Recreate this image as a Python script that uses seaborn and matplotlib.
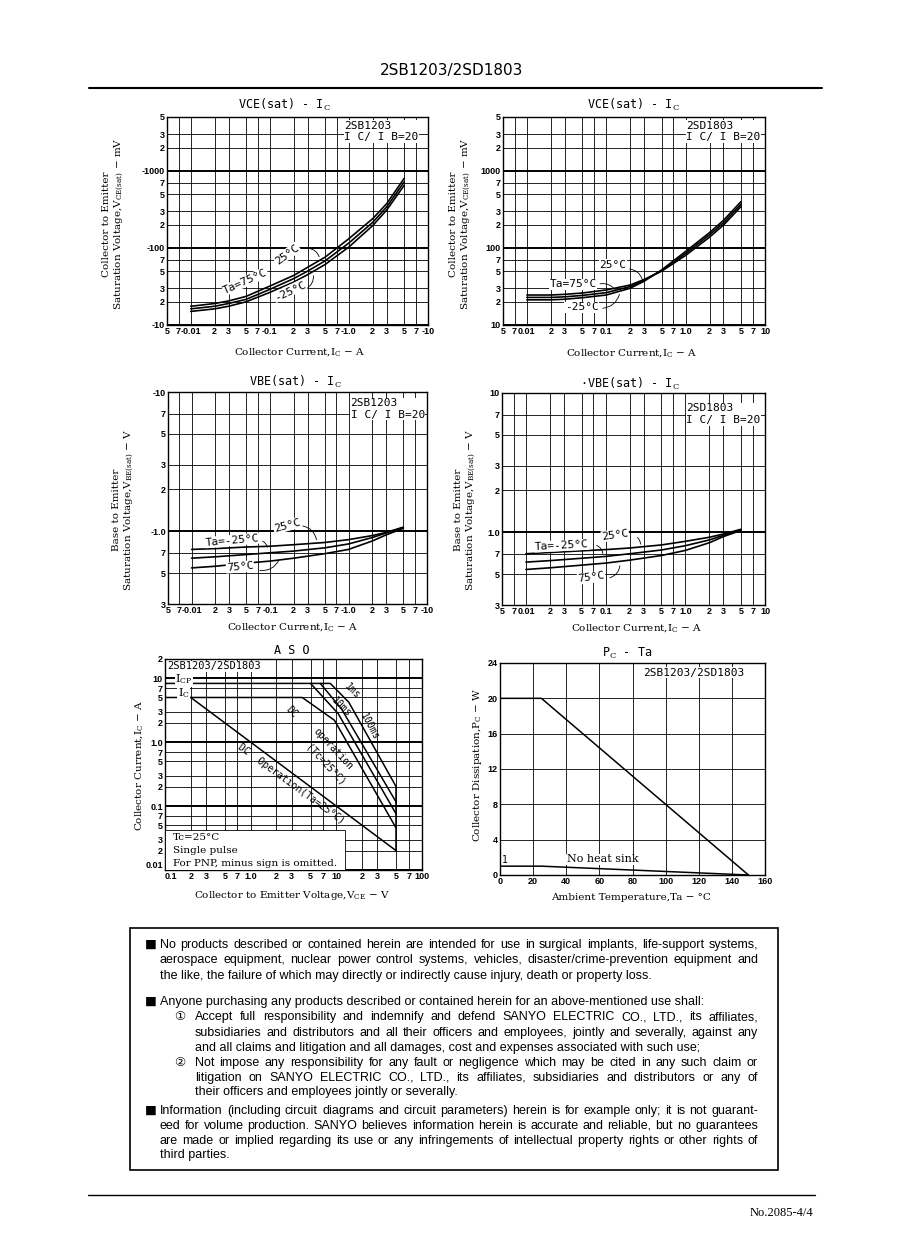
import numpy as np
import pandas as pd
import matplotlib
matplotlib.use("Agg")
import matplotlib.pyplot as plt
import seaborn as sns
from matplotlib import font_manager
from matplotlib.ticker import FixedLocator, FixedFormatter, NullLocator
from matplotlib.patches import Rectangle
from matplotlib.lines import Line2D

# ---------- VCE(sat) - IC ----------
vce_ic = [0.01, 0.02, 0.03, 0.05, 0.1, 0.2, 0.3, 0.5, 1.0, 2.0, 3.0, 5.0]
vce_b_75 = [17.5, 19, 20.5, 23.5, 32, 44, 56, 76, 132, 240, 375, 800]
vce_b_25 = [16.2, 17.5, 19, 21.5, 29, 40, 50, 68, 116, 215, 340, 720]
vce_b_m25 = [15, 16.2, 17.5, 20, 26.5, 36, 45, 61, 103, 195, 310, 650]
vce_d_75 = [24.5, 24.5, 25, 26, 28.5, 33, 39, 50, 80, 138, 198, 345]
vce_d_25 = [22.8, 22.8, 23.2, 24.2, 26.3, 31.5, 38, 51, 85, 148, 212, 370]
vce_d_m25 = [21.2, 21.2, 21.6, 22.6, 24.5, 30, 37, 52, 90, 158, 228, 400]

# ---------- VBE(sat) - IC ----------
vbe_ic = [0.01, 0.02, 0.05, 0.1, 0.2, 0.5, 1.0, 2.0, 3.0, 5.0]
vbe_b_m25 = [0.74, 0.75, 0.77, 0.78, 0.80, 0.83, 0.87, 0.93, 0.98, 1.07]
vbe_b_25 = [0.64, 0.655, 0.68, 0.70, 0.72, 0.76, 0.81, 0.90, 0.97, 1.06]
vbe_b_75 = [0.545, 0.56, 0.59, 0.61, 0.64, 0.69, 0.74, 0.85, 0.94, 1.05]
vbe_d_m25 = [0.70, 0.715, 0.735, 0.75, 0.77, 0.81, 0.86, 0.92, 0.97, 1.05]
vbe_d_25 = [0.61, 0.625, 0.65, 0.67, 0.70, 0.745, 0.80, 0.88, 0.95, 1.04]
vbe_d_75 = [0.54, 0.555, 0.58, 0.60, 0.63, 0.68, 0.74, 0.84, 0.93, 1.03]

# ---------- ASO ----------
aso_1ms_v = [0.1, 8.5, 14, 50]
aso_1ms_a = [8.3, 8.3, 4.2, 0.2]
aso_10ms_v = [6.5, 11.5, 50]
aso_10ms_a = [8.3, 3.3, 0.115]
aso_100ms_v = [5, 10.5, 50]
aso_100ms_a = [8.3, 2.8, 0.075]
aso_dctc_v = [0.1, 4, 9.5, 50]
aso_dctc_a = [5, 5, 2.2, 0.045]
aso_dcta_v = [0.2, 50]
aso_dcta_a = [5, 0.02]
aso_vceo_v = [50, 50]
aso_vceo_a = [0.02, 0.2]

# ---------- Pc - Ta ----------
pc_ta_hs = [0, 25, 150]
pc_w_hs = [20, 20, 0]
pc_ta_nohs = [0, 25, 150]
pc_w_nohs = [1, 1, 0]

# ---------- тики ----------
x_ic = [0.005, 0.007, 0.01, 0.02, 0.03, 0.05, 0.07, 0.1, 0.2, 0.3, 0.5, 0.7, 1, 2, 3, 5, 7, 10]
x_ic_lab_b = ['5', '7', '-0.01', '2', '3', '5', '7', '-0.1', '2', '3', '5', '7', '-1.0', '2', '3', '5', '7', '-10']
x_ic_lab_d = ['5', '7', '0.01', '2', '3', '5', '7', '0.1', '2', '3', '5', '7', '1.0', '2', '3', '5', '7', '10']
y_vce = [5000, 3000, 2000, 1000, 700, 500, 300, 200, 100, 70, 50, 30, 20, 10]
y_vce_lab_b = ['5', '3', '2', '-1000', '7', '5', '3', '2', '-100', '7', '5', '3', '2', '-10']
y_vce_lab_d = ['5', '3', '2', '1000', '7', '5', '3', '2', '100', '7', '5', '3', '2', '10']
y_vbe = [10, 7, 5, 3, 2, 1, 0.7, 0.5, 0.3]
y_vbe_lab_b = ['-10', '7', '5', '3', '2', '-1.0', '7', '5', '3']
y_vbe_lab_d = ['10', '7', '5', '3', '2', '1.0', '7', '5', '3']
x_aso = [0.1, 0.2, 0.3, 0.5, 0.7, 1, 2, 3, 5, 7, 10, 20, 30, 50, 70, 100]
x_aso_lab = ['0.1', '2', '3', '5', '7', '1.0', '2', '3', '5', '7', '10', '2', '3', '5', '7', '100']
y_aso = [20, 10, 7, 5, 3, 2, 1, 0.7, 0.5, 0.3, 0.2, 0.1, 0.07, 0.05, 0.03, 0.02, 0.01]
y_aso_lab = ['2', '10', '7', '5', '3', '2', '1.0', '7', '5', '3', '2', '0.1', '7', '5', '3', '2', '0.01']
x_ta = [0, 20, 40, 60, 80, 100, 120, 140, 160]
y_pc = [0, 4, 8, 12, 16, 20, 24]


def has_font(name):
    try:
        font_manager.findfont(name, fallback_to_default=False)
        return True
    except Exception:
        return False


sns.set_theme(style="white")
plt.rcParams['font.family'] = ['DejaVu Sans']
plt.rcParams['mathtext.fontset'] = 'dejavuserif'
plt.rcParams['axes.linewidth'] = 1.0
plt.rcParams['axes.edgecolor'] = 'black'
plt.rcParams['text.color'] = 'black'
plt.rcParams['xtick.color'] = 'black'
plt.rcParams['ytick.color'] = 'black'

MONO = ['DejaVu Sans Mono']
SERIF = ['DejaVu Serif']
TICKF = ['Liberation Sans', 'DejaVu Sans']
BODY = (['Liberation Sans Narrow'] if has_font('Liberation Sans Narrow') else []) + \
       ['Liberation Sans', 'DejaVu Sans', 'Noto Sans CJK JP']

W, H = 898, 1260
fig = plt.figure(figsize=(W / 100, H / 100), dpi=100)
fig.patch.set_facecolor('white')


def px(x, y):
    return x / W, 1 - y / H


def add_ax(l, t, r, b):
    return fig.add_axes([l / W, 1 - b / H, (r - l) / W, (b - t) / H])


def is_decade(v):
    lv = np.log10(v)
    return abs(lv - round(lv)) < 1e-6


def frame(ax, xt, xl, yt, yl, xlim, ylim, log=True):
    if log:
        ax.set_xscale('log')
        ax.set_yscale('log')
    ax.set_xlim(xlim)
    ax.set_ylim(ylim)
    ax.xaxis.set_major_locator(FixedLocator(xt))
    ax.xaxis.set_major_formatter(FixedFormatter(xl))
    ax.yaxis.set_major_locator(FixedLocator(yt))
    ax.yaxis.set_major_formatter(FixedFormatter(yl))
    ax.xaxis.set_minor_locator(NullLocator())
    ax.yaxis.set_minor_locator(NullLocator())
    ax.tick_params(length=0, pad=1.5, labelsize=6.5, colors='black')
    for lab in ax.get_xticklabels() + ax.get_yticklabels():
        lab.set_family(TICKF)
        lab.set_fontweight('bold')
    for v in xt:
        ax.axvline(v, color='black', lw=0.6, zorder=1)
    for v in yt:
        heavy = log and is_decade(v)
        ax.axhline(v, color='black', lw=1.4 if heavy else 0.6, zorder=1)
    for s in ax.spines.values():
        s.set_color('black')
        s.set_linewidth(1.0)
        s.set_zorder(3)
    ax.set_xlabel('')
    ax.set_ylabel('')


def curves(ax, x, ys, labels):
    df = pd.concat([pd.DataFrame({'ic': x, 'v': y, 'ta': lab}) for y, lab in zip(ys, labels)])
    sns.lineplot(data=df, x='ic', y='v', hue='ta', palette=['black'] * len(ys),
                 legend=False, ax=ax, lw=1.2, zorder=4)
    ax.set_xlabel('')
    ax.set_ylabel('')


def leader(ax, p0, p1, rad=-0.4):
    ax.annotate('', xy=p1, xytext=p0, xycoords='axes fraction', textcoords='axes fraction',
                arrowprops=dict(arrowstyle='-', lw=0.6, color='black',
                                connectionstyle='arc3,rad=%s' % rad), zorder=5)


def atext(ax, x, y, s, rot=0, fs=8, ha='center', family=None, bg=False):
    kw = dict(transform=ax.transAxes, fontsize=fs, rotation=rot, ha=ha, va='center',
              family=family or MONO, rotation_mode='anchor', zorder=6, color='black')
    if bg:
        kw['bbox'] = dict(facecolor='white', edgecolor='none', pad=0.4)
    ax.text(x, y, s, **kw)


temps = ['75', '25', '-25']

# ---- panel 1: VCE(sat) 2SB1203 ----
ax1 = add_ax(167, 117, 428, 325)
frame(ax1, x_ic, x_ic_lab_b, y_vce, y_vce_lab_b, (0.005, 10), (10, 5000))
curves(ax1, vce_ic, [vce_b_75, vce_b_25, vce_b_m25], temps)
atext(ax1, 0.68, 0.93, '2SB1203\nI C/ I B=20', fs=8, ha='left', bg=True)
atext(ax1, 0.30, 0.21, 'Ta=75°C', rot=24, bg=True)
atext(ax1, 0.46, 0.34, '25°C', rot=36, bg=True)
atext(ax1, 0.47, 0.165, '-25°C', rot=25, bg=True)
leader(ax1, (0.53, 0.37), (0.586, 0.315))
leader(ax1, (0.525, 0.17), (0.56, 0.25), rad=0.4)

# ---- panel 2: VCE(sat) 2SD1803 ----
ax2 = add_ax(503, 117, 765, 325)
frame(ax2, x_ic, x_ic_lab_d, y_vce, y_vce_lab_d, (0.005, 10), (10, 5000))
curves(ax2, vce_ic, [vce_d_75, vce_d_25, vce_d_m25], temps)
atext(ax2, 0.70, 0.93, '2SD1803\nI C/ I B=20', fs=8, ha='left', bg=True)
atext(ax2, 0.267, 0.195, 'Ta=75°C', bg=True)
atext(ax2, 0.42, 0.29, '25°C', bg=True)
atext(ax2, 0.30, 0.085, '-25°C', bg=True)
leader(ax2, (0.473, 0.27), (0.534, 0.207))
leader(ax2, (0.36, 0.195), (0.435, 0.155))
leader(ax2, (0.37, 0.08), (0.447, 0.16), rad=0.4)

# ---- panel 3: VBE(sat) 2SB1203 ----
ax3 = add_ax(168, 392, 427, 604)
frame(ax3, x_ic, x_ic_lab_b, y_vbe, y_vbe_lab_b, (0.005, 10), (0.3, 10))
curves(ax3, vbe_ic, [vbe_b_m25, vbe_b_25, vbe_b_75], temps)
atext(ax3, 0.705, 0.92, '2SB1203\nI C/ I B=20', fs=8, ha='left', bg=True)
atext(ax3, 0.25, 0.30, 'Ta=-25°C', rot=5, bg=True)
atext(ax3, 0.46, 0.37, '25°C', rot=15, bg=True)
atext(ax3, 0.278, 0.175, '75°C', rot=5, bg=True)
leader(ax3, (0.51, 0.37), (0.575, 0.29))
leader(ax3, (0.355, 0.30), (0.385, 0.255))
leader(ax3, (0.344, 0.16), (0.432, 0.217), rad=0.4)

# ---- panel 4: VBE(sat) 2SD1803 ----
ax4 = add_ax(502, 393, 765, 605)
frame(ax4, x_ic, x_ic_lab_d, y_vbe, y_vbe_lab_d, (0.005, 10), (0.3, 10))
curves(ax4, vbe_ic, [vbe_d_m25, vbe_d_25, vbe_d_75], temps)
atext(ax4, 0.70, 0.90, '2SD1803\nI C/ I B=20', fs=8, ha='left', bg=True)
atext(ax4, 0.228, 0.28, 'Ta=-25°C', rot=3, bg=True)
atext(ax4, 0.43, 0.33, '25°C', rot=8, bg=True)
atext(ax4, 0.34, 0.13, '75°C', rot=8, bg=True)
leader(ax4, (0.506, 0.325), (0.525, 0.274))
leader(ax4, (0.35, 0.285), (0.384, 0.23))
leader(ax4, (0.40, 0.125), (0.449, 0.198), rad=0.4)

# ---- panel 5: ASO ----
ax5 = add_ax(165, 659, 422, 870)
frame(ax5, x_aso, x_aso_lab, y_aso, y_aso_lab, (0.1, 100), (0.01, 20))
ax5.get_xticklabels()[0].set_horizontalalignment('left')
ax5.get_yticklabels()[-1].set_verticalalignment('bottom')
for vx, vy in [(aso_1ms_v, aso_1ms_a), (aso_10ms_v, aso_10ms_a), (aso_100ms_v, aso_100ms_a),
               (aso_dctc_v, aso_dctc_a), (aso_dcta_v, aso_dcta_a), (aso_vceo_v, aso_vceo_a)]:
    sns.lineplot(x=vx, y=vy, ax=ax5, color='black', lw=1.1, sort=False, estimator=None, zorder=4)
ax5.set_xlabel('')
ax5.set_ylabel('')
atext(ax5, 0.01, 0.966, '2SB1203/2SD1803', fs=7.5, ha='left', bg=True)
atext(ax5, 0.04, 0.905, 'I$_{\\rm CP}$', fs=8, ha='left', family=SERIF, bg=True)
atext(ax5, 0.05, 0.838, 'I$_{\\rm C}$', fs=8, ha='left', family=SERIF, bg=True)
atext(ax5, 0.73, 0.85, '1ms', rot=-45, fs=7)
atext(ax5, 0.685, 0.77, '10ms', rot=-45, fs=7)
atext(ax5, 0.795, 0.68, '100ms', rot=-62, fs=7)
atext(ax5, 0.494, 0.749, 'DC', rot=-45, fs=7)
atext(ax5, 0.655, 0.575, 'operation', rot=-47, fs=7)
atext(ax5, 0.625, 0.495, '(Tc=25°C)', rot=-47, fs=7)
atext(ax5, 0.49, 0.41, 'DC  Operation(Ta=25°C)', rot=-36, fs=7)
ax5.add_patch(Rectangle((0.0, 0.0), 0.70, 0.19, transform=ax5.transAxes, facecolor='white',
                        edgecolor='black', lw=0.6, zorder=5))
atext(ax5, 0.03, 0.155, 'Tc=25°C', fs=7.5, ha='left', family=SERIF)
atext(ax5, 0.03, 0.092, 'Single pulse', fs=7.5, ha='left', family=SERIF)
atext(ax5, 0.03, 0.032, 'For PNP, minus sign is omitted.', fs=7.5, ha='left', family=SERIF)

# ---- panel 6: Pc - Ta ----
ax6 = add_ax(500, 663, 765, 875)
frame(ax6, x_ta, [str(v) for v in x_ta], y_pc, [str(v) for v in y_pc], (0, 160), (0, 24), log=False)
sns.lineplot(x=pc_ta_hs, y=pc_w_hs, ax=ax6, color='black', lw=1.1, sort=False, estimator=None, zorder=4)
sns.lineplot(x=pc_ta_nohs, y=pc_w_nohs, ax=ax6, color='black', lw=1.1, sort=False, estimator=None, zorder=4)
ax6.set_xlabel('')
ax6.set_ylabel('')
ax6.text(3, 1.7, '1', fontsize=7, family=MONO, va='center', ha='center', zorder=6)
ax6.text(62, 1.8, 'No heat sink', fontsize=8, family=SERIF, va='center', ha='center', zorder=6,
         bbox=dict(facecolor='white', edgecolor='none', pad=0.4))
ax6.text(117, 22.9, '2SB1203/2SD1803', fontsize=8, family=MONO, va='center', ha='center', zorder=6,
         bbox=dict(facecolor='white', edgecolor='none', pad=0.5))

# ---- titles and axis labels ----
titles = [((284, 105), 'VCE(sat) - I$_{\\rm C}$'), ((633, 105), 'VCE(sat) - I$_{\\rm C}$'),
          ((295, 382), 'VBE(sat) - I$_{\\rm C}$'), ((630, 384), '·VBE(sat) - I$_{\\rm C}$'),
          ((292, 650), 'A S O'), ((627, 653), 'P$_{\\rm C}$ - Ta')]
for (x, y), s in titles:
    fig.text(*px(x, y), s, fontsize=8.5, family=MONO, ha='center', va='center')

xlabels = [((300, 352), 'Collector Current,I$_{\\rm C}$ − A'),
           ((632, 353), 'Collector Current,I$_{\\rm C}$ − A'),
           ((293, 627), 'Collector Current,I$_{\\rm C}$ − A'),
           ((637, 628), 'Collector Current,I$_{\\rm C}$ − A'),
           ((292, 895), 'Collector to Emitter Voltage,V$_{\\rm CE}$ − V'),
           ((631, 897), 'Ambient Temperature,Ta − °C')]
for (x, y), s in xlabels:
    fig.text(*px(x, y), s, fontsize=7.5, family=SERIF, ha='center', va='center')

ylabels = [((114, 224), 'Collector to Emitter\nSaturation Voltage,V$_{\\rm CE(sat)}$ − mV'),
           ((461, 224), 'Collector to Emitter\nSaturation Voltage,V$_{\\rm CE(sat)}$ − mV'),
           ((124, 510), 'Base to Emitter\nSaturation Voltage,V$_{\\rm BE(sat)}$ − V'),
           ((466, 510), 'Base to Emitter\nSaturation Voltage,V$_{\\rm BE(sat)}$ − V'),
           ((139, 765), 'Collector Current,I$_{\\rm C}$ − A'),
           ((477, 765), 'Collector Dissipation,P$_{\\rm C}$ − W')]
for (x, y), s in ylabels:
    fig.text(*px(x, y), s, fontsize=7.5, family=SERIF, ha='center', va='center',
             rotation=90, linespacing=1.1, multialignment='center')

# ---- header / footer ----
fig.text(*px(452, 70), '2SB1203/2SD1803', fontsize=11, family=['DejaVu Sans'], ha='center', va='center')
fig.add_artist(Line2D([89 / W, 822 / W], [1 - 88 / H] * 2, color='black', lw=1.5))
fig.add_artist(Line2D([88 / W, 815 / W], [1 - 1195 / H] * 2, color='black', lw=1.0))
fig.text(*px(813, 1213), 'No.2085-4/4', fontsize=9, family=['Liberation Serif', 'DejaVu Serif'],
         ha='right', va='center')

# ---- disclaimer box ----
fig.add_artist(Rectangle((130 / W, 1 - 1170 / H), 648 / W, 242 / H, transform=fig.transFigure,
                         facecolor='none', edgecolor='black', lw=1.2))

para_lines = [
    # (x_start, baseline_y, text, justify)
    (160, 948, 'No products described or contained herein are intended for use in surgical implants, life-support systems,', True),
    (160, 963, 'aerospace equipment, nuclear power control systems, vehicles, disaster/crime-prevention equipment and', True),
    (160, 979, 'the like, the failure of which may directly or indirectly cause injury, death or property loss.', False),
    (160, 1005, 'Anyone purchasing any products described or contained herein for an above-mentioned use shall:', False),
    (195, 1020, 'Accept full responsibility and indemnify and defend SANYO ELECTRIC CO., LTD., its affiliates,', True),
    (195, 1036, 'subsidiaries and distributors and all their officers and employees, jointly and severally, against any', True),
    (195, 1051, 'and all claims and litigation and all damages, cost and expenses associated with such use;', False),
    (195, 1066, 'Not impose any responsibility for any fault or negligence which may be cited in any such claim or', True),
    (195, 1081, 'litigation on SANYO ELECTRIC CO., LTD., its affiliates, subsidiaries and distributors or any of', True),
    (195, 1095, 'their officers and employees jointly or severally.', False),
    (160, 1114, 'Information (including circuit diagrams and circuit parameters) herein is for example only; it is not guarant-', True),
    (160, 1129, 'eed for volume production. SANYO believes information herein is accurate and reliable, but no guarantees', True),
    (160, 1144, 'are made or implied regarding its use or any infringements of intellectual property rights or other rights of', True),
    (160, 1158, 'third parties.', False),
]
marks = [(145, 948, '■'), (145, 1005, '■'), (145, 1114, '■'), (174, 1020, '①'), (174, 1066, '②')]
RIGHT = 758

r = fig.canvas.get_renderer()
probe = fig.text(0, 0, para_lines[10][2], fontsize=10, family=BODY)
w10 = probe.get_window_extent(r).width
probe.remove()
fs_body = 10 * (RIGHT - 160) / w10 * 0.98

for x0, y, s, just in para_lines:
    if not just:
        fig.text(*px(x0, y), s, fontsize=fs_body, family=BODY, va='baseline', ha='left')
        continue
    words = s.split(' ')
    objs = [fig.text(*px(x0, y), w, fontsize=fs_body, family=BODY, va='baseline', ha='left') for w in words]
    widths = [o.get_window_extent(r).width for o in objs]
    gap = (RIGHT - x0 - sum(widths)) / (len(words) - 1)
    xc = x0
    for o, wd in zip(objs, widths):
        o.set_x(xc / W)
        xc += wd + gap

for x, y, s in marks:
    fig.text(*px(x, y), s, fontsize=fs_body, family=['DejaVu Sans', 'Noto Sans CJK JP'],
             va='baseline', ha='left')

fig.savefig('out.png', dpi=100, facecolor='white')
